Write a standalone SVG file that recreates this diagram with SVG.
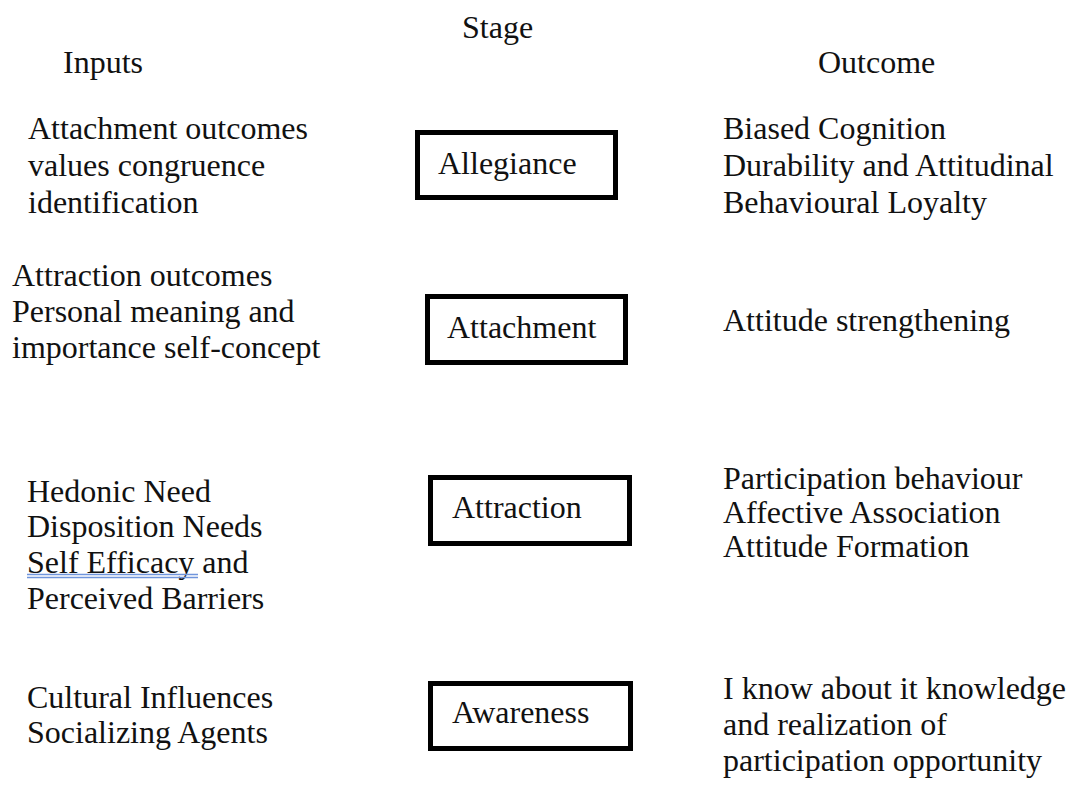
<svg xmlns="http://www.w3.org/2000/svg" width="1079" height="787" viewBox="0 0 1079 787">
<style>
text{font-family:'Liberation Serif',Tinos,'Times New Roman','DejaVu Serif',serif;font-size:32px;fill:#111}
.box{fill:#fff;stroke:#000;stroke-width:5}
.spell{stroke:#6f95dc;stroke-width:1.3;fill:none}
</style>
<rect width="1079" height="787" fill="#fff"/>
<g id="headers" font-family="Liberation Serif, serif">
<text x="462" y="38">Stage</text>
<text x="63" y="73">Inputs</text>
<text x="818" y="73">Outcome</text>
</g>
<g id="inputs-allegiance">
<text x="28" y="139">Attachment outcomes</text>
<text x="28" y="176">values congruence</text>
<text x="28" y="213">identification</text>
</g>
<g id="stage-allegiance">
<rect class="box" x="417.5" y="132.5" width="198" height="65"/>
<text x="438" y="174">Allegiance</text>
</g>
<g id="outcome-allegiance">
<text x="723" y="139">Biased Cognition</text>
<text x="723" y="176">Durability and Attitudinal</text>
<text x="723" y="213">Behavioural Loyalty</text>
</g>
<g id="inputs-attachment">
<text x="12" y="286">Attraction outcomes</text>
<text x="12" y="322">Personal meaning and</text>
<text x="12" y="358">importance self-concept</text>
</g>
<g id="stage-attachment">
<rect class="box" x="427.5" y="296.5" width="198" height="66"/>
<text x="447" y="338">Attachment</text>
</g>
<g id="outcome-attachment">
<text x="723" y="331">Attitude strengthening</text>
</g>
<g id="inputs-attraction">
<text x="27" y="502">Hedonic Need</text>
<text x="27" y="537">Disposition Needs</text>
<text x="27" y="573">Self Efficacy and</text>
<line class="spell" x1="27" y1="574.5" x2="198" y2="574.5"/>
<line class="spell" x1="27" y1="577.5" x2="198" y2="577.5"/>
<text x="27" y="609">Perceived Barriers</text>
</g>
<g id="stage-attraction">
<rect class="box" x="430.5" y="477.5" width="199" height="66"/>
<text x="452" y="518">Attraction</text>
</g>
<g id="outcome-attraction">
<text x="723" y="489">Participation behaviour</text>
<text x="723" y="523">Affective Association</text>
<text x="723" y="557">Attitude Formation</text>
</g>
<g id="inputs-awareness">
<text x="27" y="708">Cultural Influences</text>
<text x="27" y="743">Socializing Agents</text>
</g>
<g id="stage-awareness">
<rect class="box" x="430.5" y="683.5" width="200" height="65"/>
<text x="452" y="723">Awareness</text>
</g>
<g id="outcome-awareness">
<text x="723" y="699">I know about it knowledge</text>
<text x="723" y="735">and realization of</text>
<text x="723" y="771">participation opportunity</text>
</g>
<g id="connectors"/>
</svg>
